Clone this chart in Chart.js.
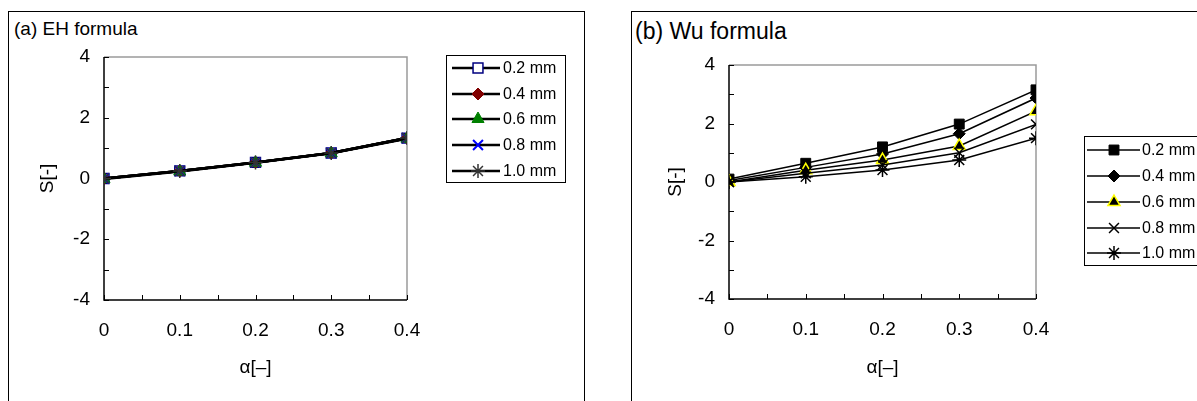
<!DOCTYPE html>
<html><head><meta charset="utf-8">
<script src="https://cdn.jsdelivr.net/npm/chart.js@4.4.1/dist/chart.umd.min.js"></script>
<style>
html,body{margin:0;padding:0;}
body{width:1197px;height:401px;overflow:hidden;background:#fff;position:relative;font-family:"Liberation Sans",Arial,sans-serif;}
.panel{position:absolute;border:1px solid #000;box-sizing:border-box;}
.ttl{position:absolute;color:#000;white-space:nowrap;line-height:1;}
.cw{position:absolute;top:0;height:401px;}
canvas{display:block;}
</style></head><body>
<div class="panel" style="left:8px;top:11px;width:577px;height:420px"></div>
<div class="panel" style="left:631px;top:11px;width:620px;height:420px"></div>
<div class="ttl" style="left:14px;top:19px;font-size:19px">(a) EH formula</div>
<div class="ttl" style="left:635px;top:20px;font-size:23px">(b) Wu formula</div>
<div class="cw" style="left:0;width:600px"><canvas id="c1" width="600" height="401"></canvas></div>
<div class="cw" style="left:600px;width:597px"><canvas id="c2" width="597" height="401"></canvas></div>
<script>
// ---- data ----
const alpha = [0, 0.1, 0.2, 0.3, 0.4];
const seriesLabels = ['0.2 mm', '0.4 mm', '0.6 mm', '0.8 mm', '1.0 mm'];
const xTicks = [0, 0.1, 0.2, 0.3, 0.4];
const yTicks = [-4, -2, 0, 2, 4];

// (a) EH formula
const eh02 = [0, 0.25, 0.53, 0.84, 1.33];
const eh04 = [0, 0.25, 0.53, 0.84, 1.33];
const eh06 = [-0.02, 0.23, 0.52, 0.83, 1.31];
const eh08 = [0, 0.25, 0.53, 0.84, 1.33];
const eh10 = [0, 0.25, 0.53, 0.84, 1.33];

// (b) Wu formula
const wu02 = [0.1, 0.64, 1.2, 1.98, 3.15];
const wu04 = [0.05, 0.5, 0.96, 1.65, 2.87];
const wu06 = [0, 0.4, 0.75, 1.23, 2.42];
const wu08 = [0, 0.3, 0.58, 1.0, 1.97];
const wu10 = [0, 0.18, 0.41, 0.75, 1.5];

const FAM = '"Liberation Sans", Arial, sans-serif';
const pts = arr => alpha.map((a, i) => ({x: a, y: arr[i]}));

function drawMarker(ctx, ds, x, y) {
  const opt = {pointStyle: ds.pointStyle, radius: ds.pointRadius, borderWidth: ds.pointBorderWidth, rotation: 0};
  ctx.fillStyle = ds.pointBackgroundColor;
  ctx.strokeStyle = ds.pointBorderColor;
  ctx.lineWidth = ds.pointBorderWidth;
  if (Chart.helpers && Chart.helpers.drawPoint) { Chart.helpers.drawPoint(ctx, opt, x, y); return; }
  const r = ds.pointRadius;
  ctx.beginPath();
  ctx.arc(x, y, r, 0, Math.PI * 2);
  ctx.fill(); ctx.stroke();
}

const framePlugin = {
  id: 'frame',
  beforeDatasetsDraw(chart, args, o) {
    const {ctx, chartArea: a, scales: {x, y}} = chart;
    ctx.save();
    ctx.strokeStyle = '#9a9a9a'; ctx.lineWidth = 1.5;
    ctx.beginPath(); ctx.moveTo(a.left, a.top); ctx.lineTo(a.right, a.top); ctx.lineTo(a.right, a.bottom); ctx.stroke();
    ctx.strokeStyle = '#000'; ctx.lineWidth = 1.5;
    ctx.beginPath(); ctx.moveTo(a.left, a.top); ctx.lineTo(a.left, a.bottom); ctx.lineTo(a.right, a.bottom); ctx.stroke();
    const xm = (xTicks[1] - xTicks[0]) / 2, ym = (yTicks[1] - yTicks[0]) / 2;
    ctx.lineWidth = 1;
    ctx.beginPath();
    for (let i = 0; xTicks[0] + i * xm <= xTicks[xTicks.length - 1] + 1e-9; i++) {
      const px = Math.round(x.getPixelForValue(xTicks[0] + i * xm)) + 0.5;
      ctx.moveTo(px, a.bottom); ctx.lineTo(px, a.bottom - 5);
    }
    for (let i = 0; yTicks[0] + i * ym <= yTicks[yTicks.length - 1] + 1e-9; i++) {
      const py = Math.round(y.getPixelForValue(yTicks[0] + i * ym)) + 0.5;
      ctx.moveTo(a.left, py); ctx.lineTo(a.left + 5, py);
    }
    ctx.stroke();
    ctx.restore();
  }
};

const legendPlugin = {
  id: 'boxLegend',
  afterDraw(chart, args, o) {
    const ctx = chart.ctx;
    ctx.save();
    ctx.strokeStyle = '#000'; ctx.lineWidth = 1;
    ctx.strokeRect(o.box[0] + 0.5, o.box[1] + 0.5, o.box[2] - o.box[0], o.box[3] - o.box[1]);
    chart.data.datasets.forEach((ds, i) => {
      const yy = o.rows[i];
      ctx.strokeStyle = ds.borderColor; ctx.lineWidth = ds.borderWidth;
      ctx.beginPath(); ctx.moveTo(o.lx[0], yy); ctx.lineTo(o.lx[1], yy); ctx.stroke();
      drawMarker(ctx, ds, o.mx, yy);
      ctx.fillStyle = '#000';
      ctx.font = '16px ' + FAM;
      ctx.textBaseline = 'middle'; ctx.textAlign = 'left';
      ctx.fillText(ds.label, o.tx, yy + 1);
    });
    ctx.restore();
  }
};

function makeChart(id, datasets, L) {
  return new Chart(document.getElementById(id), {
    type: 'line',
    data: {datasets},
    plugins: [framePlugin, legendPlugin],
    options: {
      responsive: false,
      animation: false,
      layout: {padding: {left: 0, top: L.top, right: L.right, bottom: 0}},
      plugins: {legend: {display: false}, tooltip: {enabled: false}, boxLegend: L.legend},
      scales: {
        x: {
          type: 'linear', min: xTicks[0], max: xTicks[xTicks.length - 1],
          afterBuildTicks: s => { s.ticks = xTicks.map(v => ({value: v})); },
          afterFit: s => { s.height = L.xh; },
          grid: {display: false, drawTicks: false}, border: {display: false},
          ticks: {padding: L.xpad, color: '#000', font: {size: 19, family: FAM}, maxRotation: 0, autoSkip: false,
                  callback: v => String(v)},
          title: {display: true, text: 'α[–]', color: '#000', font: {size: 19, family: FAM}, padding: {top: 0, bottom: 22}}
        },
        y: {
          type: 'linear', min: yTicks[0], max: yTicks[yTicks.length - 1],
          afterBuildTicks: s => { s.ticks = yTicks.map(v => ({value: v})); },
          afterFit: s => { s.width = L.yw; },
          grid: {display: false, drawTicks: false}, border: {display: false},
          ticks: {padding: L.ypad, color: '#000', font: {size: 19, family: FAM}, callback: v => String(v)},
          title: {display: true, text: 'S[-]', color: '#000', font: {size: 19, family: FAM}, padding: {top: L.ytp, bottom: 0}}
        }
      }
    }
  });
}

function ds(label, data, style, r, fill, stroke, bw, lw, order) {
  return {label, data: pts(data), borderColor: '#000', borderWidth: lw, tension: 0, fill: false, order,
    pointStyle: style, pointRadius: r, pointBackgroundColor: fill, pointBorderColor: stroke, pointBorderWidth: bw};
}

makeChart('c1', [
  ds(seriesLabels[0], eh02, 'rect', 7, '#ffffff', '#000080', 1.5, 2.5, 5),
  ds(seriesLabels[1], eh04, 'rectRot', 6, '#800000', '#800000', 1, 2.5, 4),
  ds(seriesLabels[2], eh06, 'triangle', 7, '#008000', '#008000', 1, 2.5, 3),
  ds(seriesLabels[3], eh08, 'crossRot', 7, '#0000ff', '#0000ff', 2, 2.5, 2),
  ds(seriesLabels[4], eh10, 'star', 7, '#333333', '#333333', 1.5, 2.5, 1)
], {top: 57, right: 193, xh: 101, yw: 104, xpad: 19, ypad: 14, ytp: 36,
    legend: {box: [446, 55, 565, 182], rows: [68, 94, 119, 145, 171], lx: [452, 500], mx: 478, tx: 503}});

makeChart('c2', [
  ds(seriesLabels[0], wu02, 'rect', 7, '#000', '#000', 1, 1.5, 5),
  ds(seriesLabels[1], wu04, 'rectRot', 6, '#000', '#000', 1, 1.5, 4),
  ds(seriesLabels[2], wu06, 'triangle', 7, '#000', '#ffff00', 1.5, 1.5, 3),
  ds(seriesLabels[3], wu08, 'crossRot', 7, '#000', '#000', 1.5, 1.5, 2),
  ds(seriesLabels[4], wu10, 'star', 7, '#000', '#000', 1.5, 1.5, 1)
], {top: 65, right: 161, xh: 102, yw: 129, xpad: 19, ypad: 14, ytp: 64,
    legend: {box: [484, 136, 640, 265], rows: [150, 176, 202, 228, 253], lx: [487, 540], mx: 514, tx: 542}});
</script>
</body></html>
